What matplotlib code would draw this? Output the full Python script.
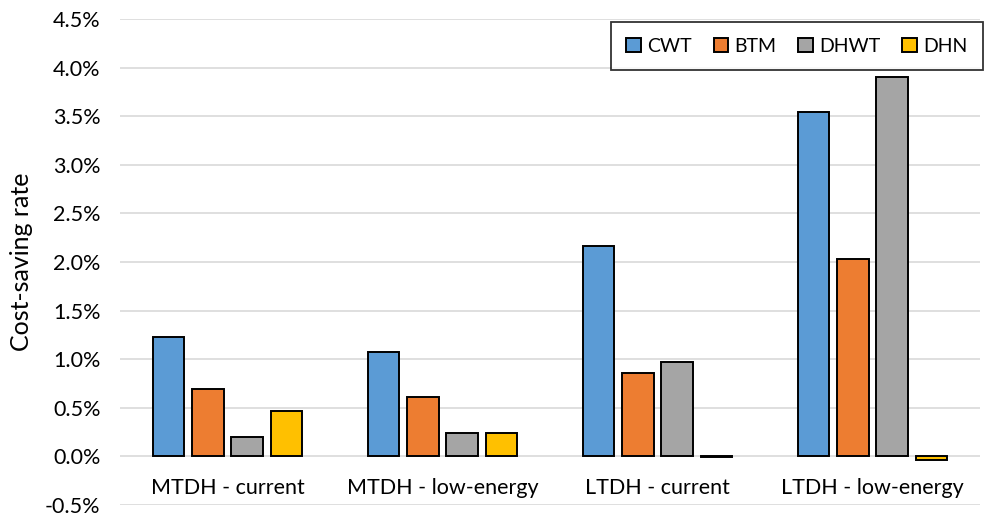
import numpy as np
import matplotlib.pyplot as plt
from matplotlib.ticker import FuncFormatter

plt.rcParams['font.family'] = ['Lato', 'DejaVu Sans']

categories = ['MTDH - current', 'MTDH - low-energy', 'LTDH - current', 'LTDH - low-energy']
series = ['CWT', 'BTM', 'DHWT', 'DHN']
cwt = [1.23, 1.07, 2.16, 3.55]
btm = [0.69, 0.61, 0.86, 2.03]
dhwt = [0.20, 0.24, 0.97, 3.91]
dhn = [0.47, 0.24, -0.01, -0.04]
colors = ['#5b9bd5', '#ed7d31', '#a5a5a5', '#ffc000']

fig = plt.figure(figsize=(9.84, 5.15), dpi=100)
ax = fig.add_axes([0.122, 0.02, 0.874, 0.9425])

x = np.arange(len(categories))
step = 0.183
width = 0.148
for i, (name, vals) in enumerate(zip(series, [cwt, btm, dhwt, dhn])):
    ax.bar(x + (i - 1.5) * step, vals, width, color=colors[i],
           edgecolor='black', linewidth=1.4, label=name, zorder=3)

ax.set_xlim(-0.5, len(categories) - 0.5)
ax.set_ylim(-0.5, 4.5)
ax.set_yticks(np.arange(-0.5, 4.51, 0.5))
ax.yaxis.set_major_formatter(FuncFormatter(lambda v, p: f'{v:.1f}%'))
ax.grid(axis='y', color='#d9d9d9', linewidth=1.2, zorder=0)
ax.set_axisbelow(True)
for s in ['top', 'right', 'left']:
    ax.spines[s].set_visible(False)
ax.spines['bottom'].set_position(('data', 0))
ax.spines['bottom'].set_visible(False)
ax.set_xticks(x)
ax.set_xticklabels(categories)
ax.tick_params(axis='both', length=0, labelsize=15.5)
ax.tick_params(axis='x', pad=16)
ax.tick_params(axis='y', pad=14)
ax.set_ylabel('Cost-saving rate', fontsize=18, labelpad=9)

leg = ax.legend(loc='upper right', bbox_to_anchor=(1.003, 0.994), ncol=4, fontsize=14,
                frameon=True, fancybox=False, edgecolor='black', handlelength=0.75,
                handleheight=0.75, handletextpad=0.3, columnspacing=1.15,
                borderpad=0.8, borderaxespad=0)
leg.get_frame().set_linewidth(1.3)

fig.savefig('out.png', dpi=100)
